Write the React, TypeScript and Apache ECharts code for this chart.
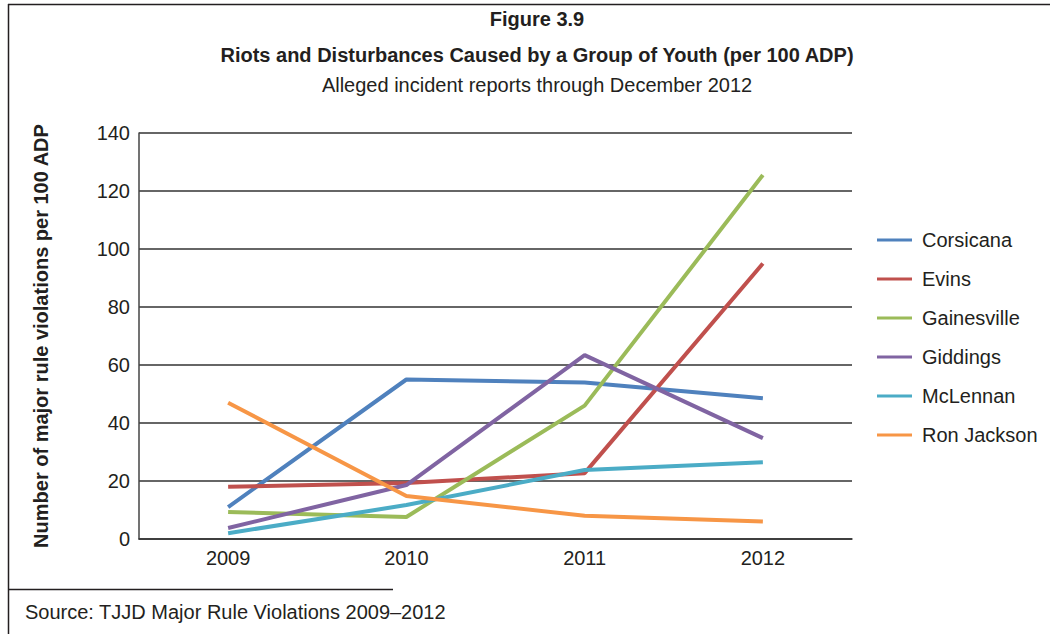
import React, { useEffect, useRef } from "react";
import * as echarts from "echarts";

const years = ["2009", "2010", "2011", "2012"];
const corsicana = [11, 55, 54, 48.5];
const evins = [18, 19.3, 22.7, 95];
const gainesville = [9.3, 7.6, 46, 125.5];
const giddings = [3.8, 18.6, 63.4, 34.8];
const mclennan = [2, 11.7, 23.8, 26.5];
const ronJackson = [47, 14.8, 8, 6];

const seriesNames = ["Corsicana", "Evins", "Gainesville", "Giddings", "McLennan", "Ron Jackson"];
const seriesData = [corsicana, evins, gainesville, giddings, mclennan, ronJackson];
const seriesColors = ["#4f81bd", "#c0504d", "#9bbb59", "#8064a2", "#4bacc6", "#f79646"];

const FONT = '"Liberation Sans", Arial, Helvetica, sans-serif';
const INK = "#231f20";

export default function App() {
  const ref = useRef<HTMLDivElement>(null);

  useEffect(() => {
    document.body.style.margin = "0";
    if (!ref.current) return;
    const chart = echarts.init(ref.current, null, { renderer: "svg" });
    chart.setOption({
      animation: false,
      backgroundColor: "#ffffff",
      textStyle: { fontFamily: FONT },
      grid: { left: 139, right: 198, top: 133, bottom: 95, containLabel: false },
      xAxis: {
        type: "category",
        data: years,
        boundaryGap: true,
        axisLine: { show: true, lineStyle: { color: "#333", width: 1.5 } },
        axisTick: { show: false },
        axisLabel: { color: INK, fontSize: 20, margin: 9, fontFamily: FONT },
        splitLine: { show: false },
      },
      yAxis: {
        type: "value",
        min: 0,
        max: 140,
        interval: 20,
        name: "Number of major rule violations per 100 ADP",
        nameLocation: "middle",
        nameGap: 88,
        nameTextStyle: { color: INK, fontSize: 20, fontWeight: "bold", fontFamily: FONT },
        axisLine: { show: true, lineStyle: { color: "#444", width: 1.5 } },
        axisTick: { show: false },
        axisLabel: { color: INK, fontSize: 20, margin: 9, fontFamily: FONT },
        splitLine: { show: true, lineStyle: { color: "#333", width: 1.5 } },
      },
      legend: {
        orient: "vertical",
        left: 872,
        top: 225,
        icon: "rect",
        itemWidth: 35,
        itemHeight: 3,
        itemGap: 19,
        data: seriesNames,
        textStyle: { color: INK, fontSize: 20, fontFamily: FONT, lineHeight: 20, padding: [0, 0, 0, 5] },
      },
      series: seriesNames.map((name, i) => ({
        name,
        type: "line",
        data: seriesData[i],
        symbol: "none",
        color: seriesColors[i],
        lineStyle: { width: 4, color: seriesColors[i] },
        itemStyle: { color: seriesColors[i] },
      })),
      graphic: [
        { type: "line", shape: { x1: 8, y1: 4.5, x2: 1050, y2: 4.5 }, style: { stroke: INK, lineWidth: 1.5 } },
        { type: "line", shape: { x1: 8.5, y1: 4, x2: 8.5, y2: 634 }, style: { stroke: INK, lineWidth: 1.5 } },
        { type: "line", shape: { x1: 8, y1: 589.5, x2: 393, y2: 589.5 }, style: { stroke: INK, lineWidth: 1.5 } },
        {
          type: "text",
          x: 537,
          y: 19,
          style: { text: "Figure 3.9", fill: INK, font: `bold 20px ${FONT}`, textAlign: "center", textVerticalAlign: "middle" },
        },
        {
          type: "text",
          x: 537,
          y: 55,
          style: {
            text: "Riots and Disturbances Caused by a Group of Youth (per 100 ADP)",
            fill: INK,
            font: `bold 20px ${FONT}`,
            textAlign: "center",
            textVerticalAlign: "middle",
          },
        },
        {
          type: "text",
          x: 537,
          y: 85,
          style: {
            text: "Alleged incident reports through December 2012",
            fill: INK,
            font: `20px ${FONT}`,
            textAlign: "center",
            textVerticalAlign: "middle",
          },
        },
        {
          type: "text",
          x: 25,
          y: 612,
          style: {
            text: "Source: TJJD Major Rule Violations 2009–2012",
            fill: INK,
            font: `20px ${FONT}`,
            textAlign: "left",
            textVerticalAlign: "middle",
          },
        },
      ],
    });
    return () => chart.dispose();
  }, []);

  return <div ref={ref} style={{ width: 1050, height: 634 }} />;
}
